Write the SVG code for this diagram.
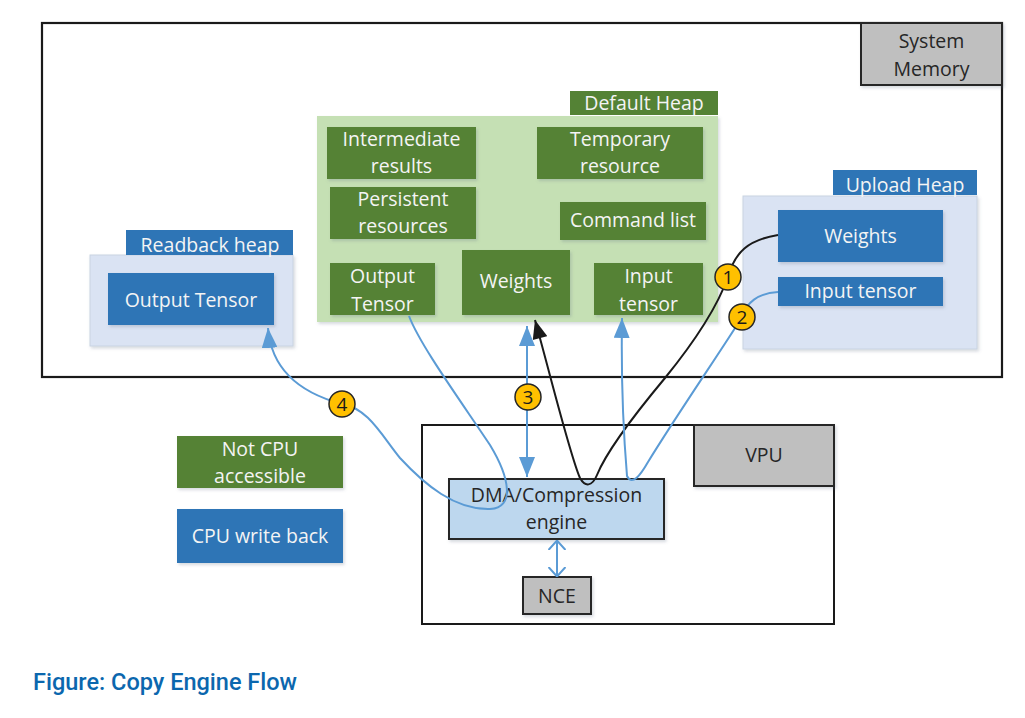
<svg xmlns="http://www.w3.org/2000/svg" width="1025" height="718" viewBox="0 0 1025 718">
<defs>
<style>
.t{font-family:"Open Sans","Liberation Sans",sans-serif;font-size:19.5px;text-anchor:middle}
.w{fill:#f4f4f4}
.d{fill:#262626}
.g{fill:#548235}
.b{fill:#2e75b6}
.gray{fill:#bfbfbf;stroke:#262626;stroke-width:2}
.lb{fill:#dae3f3;stroke:#c9d3e2;stroke-width:1}
.lg{fill:#c5e0b4}
.sh{filter:url(#ds)}
.blue{fill:none;stroke:#5b9bd5;stroke-width:2}
.blk{fill:none;stroke:#1a1a1a;stroke-width:2}
.cir{fill:#ffc000;stroke:#262626;stroke-width:1.5}
.num{font-family:"Open Sans","Liberation Sans",sans-serif;font-size:19px;text-anchor:middle;fill:#1a1a1a}
</style>
<filter id="ds" x="-10%" y="-10%" width="130%" height="140%">
<feDropShadow dx="1.5" dy="2" stdDeviation="1.5" flood-color="#5b6b80" flood-opacity="0.25"/>
</filter>
<marker id="ab" viewBox="0 0 20 16" refX="20" refY="8" markerWidth="20" markerHeight="16" markerUnits="userSpaceOnUse" orient="auto-start-reverse">
<path d="M0,0 L20,8 L0,16 Z" fill="#5b9bd5"/>
</marker>
<marker id="ak" viewBox="0 0 20 16" refX="20" refY="8" markerWidth="20" markerHeight="15" markerUnits="userSpaceOnUse" orient="auto-start-reverse">
<path d="M0,0 L20,8 L0,16 Z" fill="#1a1a1a"/>
</marker>
<marker id="ac" viewBox="0 0 10 18" refX="10" refY="9" markerWidth="10" markerHeight="18" markerUnits="userSpaceOnUse" orient="auto-start-reverse">
<path d="M0,0.5 L9.5,9 L0,17.5" fill="none" stroke="#5b9bd5" stroke-width="2"/>
</marker>
</defs>
<rect width="1025" height="718" fill="#ffffff"/>

<g id="system-memory">
<rect x="42" y="23" width="960" height="354" fill="#ffffff" stroke="#1a1a1a" stroke-width="2.2"/>
<rect class="gray sh" x="861" y="23" width="141" height="62"/>
<text class="t d" x="931.5" y="48">System</text>
<text class="t d" x="931.5" y="76">Memory</text>
</g>

<g id="default-heap">
<rect class="lg sh" x="317" y="116" width="401" height="206"/>
<rect class="g" x="570" y="91" width="148" height="24"/>
<text class="t w" x="644" y="110">Default Heap</text>
</g>
<g id="intermediate-results">
<rect class="g sh" x="327" y="127" width="149" height="52"/>
<text class="t w" x="401.5" y="146">Intermediate</text>
<text class="t w" x="401.5" y="173">results</text>
</g>
<g id="temporary-resource">
<rect class="g sh" x="537" y="127" width="166" height="52"/>
<text class="t w" x="620" y="146">Temporary</text>
<text class="t w" x="620" y="173">resource</text>
</g>
<g id="persistent-resources">
<rect class="g sh" x="330" y="187" width="146" height="52"/>
<text class="t w" x="403" y="206">Persistent</text>
<text class="t w" x="403" y="233">resources</text>
</g>
<g id="command-list">
<rect class="g sh" x="560" y="202" width="146" height="38"/>
<text class="t w" x="633" y="227">Command list</text>
</g>
<g id="output-tensor-default">
<rect class="g sh" x="330" y="263" width="105" height="52"/>
<text class="t w" x="382.5" y="283">Output</text>
<text class="t w" x="382.5" y="311">Tensor</text>
</g>
<g id="weights-default">
<rect class="g sh" x="462" y="250" width="108" height="65"/>
<text class="t w" x="516" y="288">Weights</text>
</g>
<g id="input-tensor-default">
<rect class="g sh" x="594" y="263" width="109" height="52"/>
<text class="t w" x="648.5" y="283">Input</text>
<text class="t w" x="648.5" y="311">tensor</text>
</g>

<g id="upload-heap">
<rect class="lb sh" x="743" y="196" width="234" height="153"/>
<rect class="b" x="833" y="170" width="144" height="25"/>
<text class="t w" x="905" y="192">Upload Heap</text>
</g>
<g id="weights-upload">
<rect class="b sh" x="778" y="210" width="165" height="52"/>
<text class="t w" x="860.5" y="243">Weights</text>
</g>
<g id="input-tensor-upload">
<rect class="b sh" x="778" y="277" width="165" height="29"/>
<text class="t w" x="860.5" y="298">Input tensor</text>
</g>

<g id="readback-heap">
<rect class="lb sh" x="90" y="255" width="203" height="91"/>
<rect class="b" x="126" y="230" width="167" height="25"/>
<text class="t w" x="210" y="252">Readback heap</text>
</g>
<g id="output-tensor-readback">
<rect class="b sh" x="108" y="273" width="166" height="52"/>
<text class="t w" x="191" y="307">Output Tensor</text>
</g>

<g id="legend-not-cpu">
<rect class="g sh" x="177" y="436" width="166" height="52"/>
<text class="t w" x="260" y="456">Not CPU</text>
<text class="t w" x="260" y="483">accessible</text>
</g>
<g id="legend-cpu-write-back">
<rect class="b sh" x="177" y="509" width="166" height="54"/>
<text class="t w" x="260" y="543">CPU write back</text>
</g>

<g id="vpu">
<rect x="422" y="425" width="412" height="199" fill="#ffffff" stroke="#1a1a1a" stroke-width="2"/>
<rect class="gray sh" x="694" y="425" width="140" height="61"/>
<text class="t d" x="764" y="462">VPU</text>
</g>
<g id="dma">
<rect class="sh" x="449" y="479" width="215" height="60" fill="#bdd7ee" stroke="#262626" stroke-width="2"/>
<text class="t d" x="556.5" y="502">DMA/Compression</text>
<text class="t d" x="556.5" y="529">engine</text>
</g>
<g id="nce">
<rect class="gray sh" x="523" y="577" width="68" height="37"/>
<text class="t d" x="557" y="603">NCE</text>
</g>

<g id="connectors">
<path class="blue" d="M409 316 C420 345 460 400 490 445 C510 478 515 508 490 509 C455 510 425 485 400 458 C382 436 368 408 342 404 C312 396 272 378 268 328" marker-end="url(#ab)"/>
<path class="blk" d="M778 235 C748 240 735 252 728 277 C718 305 700 335 665 378 C630 420 605 455 597 475 C592 487 585 487 580 478 C570 455 553 385 535 320" marker-end="url(#ak)"/>
<path class="blue" d="M778 292 C758 293 746 303 742 317 C725 345 680 410 648 462 C640 476 632 486 627 476 C624 440 621 380 622 318" marker-end="url(#ab)"/>
<path class="blue" d="M527 326 L527 477" marker-start="url(#ab)" marker-end="url(#ab)"/>
<path class="blue" d="M557 540 L557 577" marker-start="url(#ac)" marker-end="url(#ac)"/>
</g>

<g id="badge-1"><circle class="cir" cx="728" cy="277" r="13"/><text class="num" x="728" y="284">1</text></g>
<g id="badge-2"><circle class="cir" cx="742" cy="317" r="13"/><text class="num" x="742" y="324">2</text></g>
<g id="badge-3"><circle class="cir" cx="528" cy="397" r="13"/><text class="num" x="528" y="404">3</text></g>
<g id="badge-4"><circle class="cir" cx="342" cy="404" r="13"/><text class="num" x="342" y="411">4</text></g>

<text x="33" y="690" font-family="Roboto,'Liberation Sans',sans-serif" font-size="23.5" font-weight="500" fill="#0b67ae">Figure: Copy Engine Flow</text>
</svg>
